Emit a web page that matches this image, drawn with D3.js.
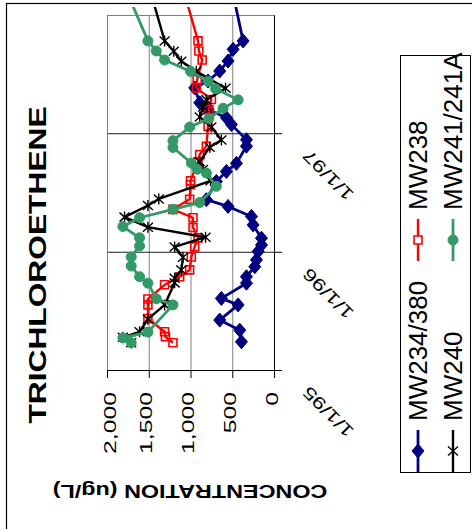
<!DOCTYPE html>
<html>
<head>
<meta charset="utf-8">
<script src="https://cdn.jsdelivr.net/npm/d3@7"></script>
<style>
  body { margin: 0; background: #fff; }
  svg { display: block; }
  text { font-family: "Liberation Sans", Arial, sans-serif; }
</style>
</head>
<body>
<svg id="chart" width="472" height="529"></svg>
<script>
// ---- data ---------------------------------------------------------------
const chartTitle = "TRICHLOROETHENE";
const valueAxisTitle = "CONCENTRATION (ug/L)";
const seriesNames = ["MW234/380", "MW238", "MW240", "MW241/241A"];

const mw234Dates = ["1995-03-29","1995-05-04","1995-06-04","1995-07-21","1995-08-10","1995-09-26","1995-10-16","1995-11-16","1995-12-07","1996-01-02","1996-01-22","1996-02-12","1996-03-24","1996-04-19","1996-05-20","1996-06-10","1996-08-05","1996-09-05","1996-09-30","1996-11-22","1996-12-12","1997-01-28","1997-02-18","1997-03-15","1997-04-05","1997-05-21","1997-06-11","1997-07-12","1997-08-12","1997-09-17","1997-10-13","1998-03-06"];
const mw234Values = [390,410,650,430,630,330,330,230,210,190,150,150,250,270,550,810,690,570,450,330,330,510,570,790,890,950,790,650,550,490,370,490];

const mw238Dates = ["1995-03-26","1995-04-14","1995-04-29","1995-06-09","1995-07-21","1995-08-08","1995-09-21","1995-10-16","1995-11-06","1995-12-16","1996-01-16","1996-02-13","1996-03-16","1996-04-15","1996-05-11","1996-06-11","1996-07-26","1996-08-07","1996-10-05","1996-10-27","1996-11-22","1997-01-22","1997-03-15","1997-04-15","1997-05-21","1997-06-16","1997-08-15","1997-09-12","1997-10-13","1998-03-06"];
const mw238Values = [1210,1300,1310,1510,1510,1510,1310,1130,1010,990,950,910,970,970,1210,1010,1000,1000,910,890,810,790,780,750,930,920,860,900,910,1070];

const mw240Dates = ["1995-03-26","1995-04-12","1995-04-29","1995-06-07","1995-07-21","1995-09-27","1995-10-11","1995-11-06","1995-12-15","1996-01-16","1996-02-15","1996-03-17","1996-04-17","1996-05-23","1996-06-12","1996-08-07","1996-09-11","1996-10-05","1996-11-19","1996-12-11","1997-01-20","1997-02-20","1997-03-23","1997-04-14","1997-05-20","1997-07-11","1997-08-11","1997-09-11","1997-10-13","1998-03-06"];
const mw240Values = [1710,1810,1610,1510,1310,1190,1190,1110,1090,1190,820,1510,1790,1510,1380,760,850,890,770,630,750,890,850,810,580,930,1110,1200,1310,1470];

const mw241Dates = ["1995-03-26","1995-04-10","1995-04-28","1995-07-21","1995-08-09","1995-09-26","1995-10-16","1995-11-18","1995-12-16","1996-01-19","1996-02-13","1996-03-19","1996-04-15","1996-05-11","1996-06-01","1996-07-21","1996-08-31","1996-09-12","1996-10-01","1996-11-18","1996-12-09","1997-01-20","1997-02-15","1997-03-19","1997-04-14","1997-05-18","1997-06-10","1997-07-11","1997-08-15","1997-09-12","1997-10-13","1998-03-06"];
const mw241Values = [1710,1810,1510,1210,1410,1510,1610,1710,1710,1610,1610,1810,1610,1210,890,690,810,920,990,1210,1210,1010,780,610,430,700,790,1000,1310,1410,1510,1750];

const valueTicks = [0, 500, 1000, 1500, 2000];
const valueGrid = [500, 1000, 1500];
const dateTicks = ["1995-01-01", "1996-01-01", "1997-01-01"];
const dateTickLabels = ["1/1/95", "1/1/96", "1/1/97"];
const dateGrid = ["1996-01-01", "1997-01-01"];
const dateDomain = ["1995-01-01", "1998-01-01"];

// ---- setup --------------------------------------------------------------
const parse = d3.utcParse("%Y-%m-%d");
const svg = d3.select("#chart");

// The chart lies on its side: time runs bottom -> top, concentration right -> left.
const y = d3.scaleUtc().domain(dateDomain.map(parse)).range([370, 15]);
const x = d3.scaleLinear().domain([0, 2000]).range([274, 107]);

const series = [
  { name: seriesNames[0], dates: mw234Dates, values: mw234Values, color: "#000080", marker: "diamond", width: 2.8 },
  { name: seriesNames[1], dates: mw238Dates, values: mw238Values, color: "#ff0000", marker: "square",  width: 2.4 },
  { name: seriesNames[2], dates: mw240Dates, values: mw240Values, color: "#000000", marker: "star",    width: 2.4 },
  { name: seriesNames[3], dates: mw241Dates, values: mw241Values, color: "#339966", marker: "circle",  width: 2.8 }
];

// outer frame
svg.append("rect")
  .attr("x", 6.5).attr("y", 3.5).attr("width", 600).attr("height", 700)
  .attr("fill", "#fff").attr("stroke", "#000").attr("stroke-width", 1.2);

// ---- plot area and grid -------------------------------------------------
const x0 = x(2000) + 0.5, x1 = x(0) + 0.5;
svg.append("rect")
  .attr("x", x0).attr("y", y.range()[1] + 0.5)
  .attr("width", x1 - x0).attr("height", y.range()[0] - y.range()[1])
  .attr("fill", "#fff").attr("stroke", "#808080").attr("stroke-width", 1);

svg.append("g").selectAll("line").data(valueGrid).join("line")
  .attr("x1", d => x(d) + 0.5).attr("x2", d => x(d) + 0.5)
  .attr("y1", y.range()[1]).attr("y2", y.range()[0])
  .attr("stroke", "#808080").attr("stroke-width", 1);

svg.append("g").selectAll("line").data(dateGrid).join("line")
  .attr("x1", x0).attr("x2", x1)
  .attr("y1", d => y(parse(d)) + 0.5).attr("y2", d => y(parse(d)) + 0.5)
  .attr("stroke", "#202020").attr("stroke-width", 1);

// value axis (concentration) along the bottom edge
svg.append("g")
  .attr("transform", `translate(0,${y.range()[0]})`)
  .attr("color", "#000")
  .call(d3.axisBottom(x).tickValues(valueTicks).tickSize(8).tickSizeOuter(0).tickFormat(""));

// date axis along the right edge
svg.append("g")
  .attr("transform", `translate(${x(0)},0)`)
  .attr("color", "#000")
  .call(d3.axisRight(y).tickValues(dateTicks.map(parse)).tickSize(8).tickSizeOuter(0).tickFormat(""));

// value tick labels
const fmt = d3.format(",");
svg.append("g").selectAll("text").data(valueTicks).join("text")
  .attr("transform", d => `translate(${Math.max(x(d) + 3.5, 116)},392) rotate(-90) scale(1.5,1)`)
  .attr("text-anchor", "end")
  .attr("font-size", 16.5)
  .attr("fill", "#000")
  .text(d => fmt(d));

// date tick labels
svg.append("g").selectAll("text").data(dateTicks).join("text")
  .attr("transform", d => `translate(${x(0) + 54},${y(parse(d)) + 42}) rotate(-135) scale(1.35,1)`)
  .attr("text-anchor", "middle")
  .attr("dy", "0.35em")
  .attr("font-size", 17)
  .attr("fill", "#000")
  .text((d, i) => dateTickLabels[i]);

// titles
svg.append("text")
  .attr("transform", "translate(46,265) rotate(-90) scale(1.38,1)")
  .attr("text-anchor", "middle")
  .attr("font-size", 23).attr("font-weight", "bold")
  .text(chartTitle);

svg.append("text")
  .attr("transform", `translate(${(x0 + x1) / 2 - 1},484.5) rotate(180) scale(1.23,1)`)
  .attr("text-anchor", "middle")
  .attr("font-size", 19).attr("font-weight", "bold")
  .text(valueAxisTitle);

// ---- series -------------------------------------------------------------
svg.append("defs").append("clipPath").attr("id", "clip")
  .append("rect").attr("x", 0).attr("y", 7).attr("width", 472).attr("height", 522);

const markerPath = {
  diamond: "M0,-7L6,0L0,7L-6,0Z",
  square: "M-4,-4H4V4H-4Z",
  star: "M0,-5.5V5.5M-5,-4.5L5,4.5M-5,4.5L5,-4.5",
  circle: "M5,0A5,5 0 1,1 -5,0A5,5 0 1,1 5,0Z"
};
function drawMarker(sel, s, legend) {
  const p = sel.attr("d", markerPath[s.marker]);
  if (s.marker === "diamond" || s.marker === "circle") {
    p.attr("fill", s.color).attr("stroke", s.color).attr("stroke-width", 1);
  } else if (s.marker === "square") {
    p.attr("fill", legend ? "#fff" : "none").attr("stroke", s.color).attr("stroke-width", 1.6);
  } else {
    p.attr("fill", "none").attr("stroke", s.color).attr("stroke-width", 1.4);
  }
}

const line = d3.line().x(d => x(d.v)).y(d => y(d.t));
const plot = svg.append("g").attr("clip-path", "url(#clip)");
series.forEach(s => {
  const pts = s.dates.map((d, i) => ({ t: parse(d), v: s.values[i] }));
  const g = plot.append("g");
  g.append("path").datum(pts)
    .attr("d", line)
    .attr("fill", "none").attr("stroke", s.color)
    .attr("stroke-width", s.width).attr("stroke-linejoin", "round");
  g.selectAll("path.m").data(pts).join("path").attr("class", "m")
    .attr("transform", d => `translate(${x(d.v)},${y(d.t)})`)
    .call(sel => drawMarker(sel, s, false));
});

// ---- legend -------------------------------------------------------------
svg.append("rect")
  .attr("x", 400.5).attr("y", 55.5).attr("width", 70).attr("height", 417)
  .attr("fill", "#fff").attr("stroke", "#000").attr("stroke-width", 1);

const legendCols = [418, 453];
const legendRows = [451, 240];
series.forEach((s, i) => {
  const cx = legendCols[Math.floor(i / 2)];
  const cy = legendRows[i % 2];
  const g = svg.append("g").attr("transform", `translate(${cx},${cy})`);
  g.append("line").attr("y1", -21).attr("y2", 21)
    .attr("stroke", s.color).attr("stroke-width", s.width);
  g.append("path").call(sel => drawMarker(sel, s, true));
  g.append("text")
    .attr("transform", "translate(9,-30) rotate(-90)")
    .attr("font-size", 26)
    .text(s.name);
});
</script>
</body>
</html>
